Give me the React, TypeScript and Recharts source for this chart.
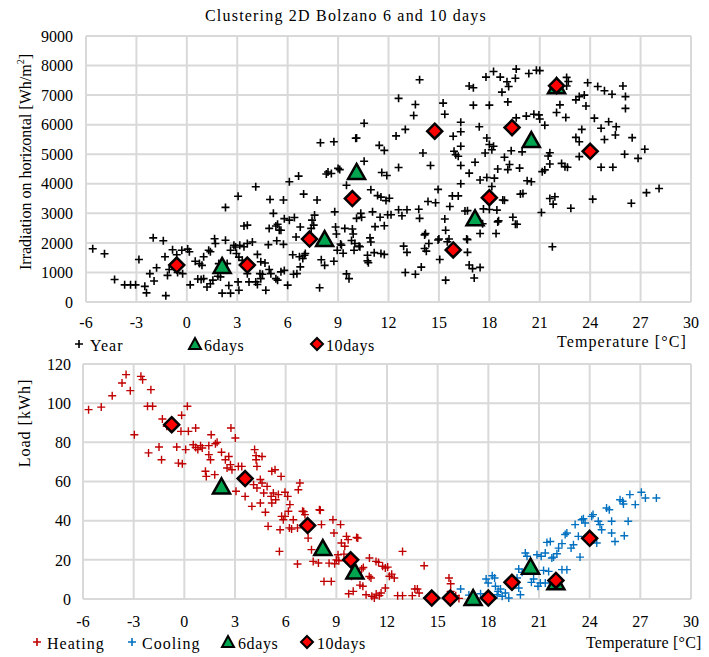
import React from 'react';
import { ScatterChart, Scatter, XAxis, YAxis, CartesianGrid } from 'recharts';

// ---- top chart: irradiation vs temperature ----
const yearPts: [number, number][] = [
  [-5.6, 1800], [-4.9, 1630], [-4.3, 760], [-3.7, 580], [-3.35, 580], [-3.05, 580], [-2.85, 1440],
  [-2.5, 530], [-2.4, 310], [-2.2, 960], [-2.0, 2170], [-1.95, 710], [-1.8, 1160], [-1.4, 2070],
  [-1.3, 1530], [-1.25, 215], [-1.15, 900], [-1.05, 1100], [-0.85, 1770], [-0.6, 1600], [-0.3, 1750],
  [0.05, 1790], [0.15, 1700], [-0.25, 960], [-0.55, 1000], [0.2, 580], [0.5, 1380], [0.75, 1300],
  [0.9, 1240], [0.65, 780], [0.85, 760], [1.0, 1530], [1.3, 1750], [1.4, 1700], [1.65, 2140],
  [1.7, 1980], [1.9, 1300], [1.95, 1150], [2.3, 2090], [2.6, 1750], [2.8, 1920], [1.85, 870],
  [1.4, 620], [1.2, 510], [2.1, 300], [2.6, 300], [2.5, 560], [2.3, 3200], [2.4, 1300], [2.0, 850],
  [2.9, 1860], [2.95, 1640], [1.55, 740], [1.0, 790],
  [3.05, 3580], [4.1, 3900], [3.4, 2570], [3.6, 2600], [4.95, 3470], [5.75, 3450], [5.15, 3000],
  [5.4, 2630], [5.6, 2430], [5.8, 2820], [6.1, 2770], [6.4, 2860], [6.1, 4070], [6.65, 4260],
  [6.95, 3650], [7.75, 3450], [4.9, 2490], [5.3, 2570], [5.5, 2430], [4.85, 1940], [5.35, 2070],
  [5.75, 1950], [6.5, 2200], [6.75, 2540], [7.45, 2770], [7.55, 2600], [7.4, 2490], [6.3, 1600],
  [6.7, 1530], [6.9, 1470], [7.0, 1580], [6.75, 1190], [6.35, 940], [6.0, 570], [5.4, 740],
  [5.3, 790], [5.8, 1070], [5.6, 1020], [4.9, 1100], [5.0, 960], [4.5, 940], [4.35, 960], [4.4, 790],
  [4.1, 680], [4.2, 590], [4.7, 400], [3.9, 2030], [3.6, 1980], [3.15, 1920], [3.4, 1870], [3.3, 1410],
  [3.1, 1520], [4.2, 1610], [4.4, 1360], [4.65, 1320], [3.05, 680], [3.1, 400], [3.6, 960], [3.7, 680],
  [7.95, 5390], [8.75, 5420], [8.0, 1430], [8.2, 1240], [8.75, 1380], [8.3, 4330], [8.4, 4400],
  [8.6, 4350], [7.6, 2940], [7.9, 480], [8.8, 3050], [8.9, 2300], [8.85, 2540], [8.95, 1750],
  [7.05, 1640], [6.55, 960],
  [9.0, 4520], [9.1, 4480], [10.55, 6050], [10.1, 5550], [11.45, 5300], [11.75, 5130], [10.55, 4760],
  [11.6, 4380], [11.9, 4280], [10.95, 3800], [11.35, 3600], [11.55, 3550], [11.85, 3430], [10.35, 3000],
  [10.4, 2870], [11.05, 3050], [11.5, 2870], [11.95, 2950], [11.2, 2550], [11.75, 2580], [9.4, 2490],
  [9.85, 2470], [9.9, 2300], [9.8, 2080], [10.0, 1980], [10.3, 1870], [10.9, 2170], [10.95, 2030],
  [11.55, 1640], [11.15, 1670], [10.75, 1390], [9.5, 950], [9.65, 790], [9.15, 1960], [9.3, 1650],
  [9.5, 3950], [10.05, 5540], [9.95, 1750], [10.1, 2830], [9.2, 1920], [10.75, 1580], [11.75, 1610],
  [10.25, 1890], [10.8, 1330],
  [13.85, 7520], [12.6, 6890], [13.6, 6680], [13.5, 6310], [15.25, 6730], [15.35, 6350], [12.45, 5620],
  [13.0, 5840], [16.3, 6080], [16.3, 5760], [15.85, 5610], [17.4, 5930], [16.8, 7310], [17.05, 7250],
  [17.05, 6660], [18.0, 6660], [17.8, 7610], [18.25, 7800], [18.65, 7610], [19.05, 7450], [19.15, 7290],
  [18.75, 7100], [19.1, 6770], [19.6, 7880], [19.55, 7570], [20.35, 7730], [20.8, 7840], [19.6, 6230],
  [20.2, 6290], [20.65, 6350], [14.05, 5040], [14.5, 4620], [12.6, 4550], [15.9, 5100], [16.0, 4980],
  [16.3, 5270], [16.15, 4930], [16.3, 4620], [17.15, 4730], [16.8, 4360], [17.85, 5550], [18.0, 5330],
  [18.25, 5270], [17.75, 5040], [18.15, 5150], [18.9, 4900], [19.2, 4650], [18.5, 4500], [19.1, 4480],
  [19.8, 4530], [19.3, 5120], [19.95, 5080], [17.45, 4130], [17.85, 4210], [18.3, 4190], [18.15, 3910],
  [20.25, 4100], [19.85, 3650], [16.3, 4000], [14.95, 3810], [14.35, 3400], [14.8, 3360], [15.8, 3590],
  [16.15, 3590], [15.65, 3230], [16.55, 3080], [15.35, 2810], [15.4, 2430], [16.65, 2130], [17.45, 2320],
  [18.4, 2320], [18.55, 2750], [18.45, 3110], [18.8, 3450], [19.4, 2870], [19.55, 2630], [17.65, 3150],
  [12.05, 3510], [12.15, 2950], [12.6, 3120], [12.8, 2920], [13.1, 3120], [13.8, 3140], [13.85, 2830],
  [14.15, 2270], [14.4, 1980], [14.95, 2100], [14.25, 1720], [14.15, 1810], [12.9, 1890], [13.1, 1680],
  [15.5, 2040], [15.05, 1440], [16.7, 1680], [16.8, 1250], [17.0, 1130], [17.45, 1170], [17.1, 810],
  [15.4, 740], [13.0, 1000], [13.6, 940], [13.95, 1180], [16.7, 3090], [16.7, 2110], [18.0, 3130],
  [18.9, 3440], [17.6, 2650], [18.5, 2710], [19.65, 2630], [15.0, 2130], [15.6, 2130], [14.2, 2320],
  [21.0, 7830], [22.6, 7600], [22.7, 7460], [22.6, 7310], [23.85, 7420], [24.45, 7290], [24.85, 7150],
  [25.3, 7030], [25.95, 7310], [26.1, 6950], [26.1, 6550], [23.15, 6840], [23.35, 6950], [23.65, 7000],
  [23.75, 6630], [22.2, 6670], [22.0, 6410], [22.55, 6240], [20.95, 6330], [21.0, 6190], [21.3, 5980],
  [24.25, 6220], [24.65, 5880], [25.1, 6100], [25.55, 5930], [23.5, 5840], [23.15, 5570], [23.35, 5420],
  [24.85, 5500], [25.5, 5650], [26.5, 5560], [23.35, 4920], [21.6, 5050], [21.5, 4940], [21.6, 4670],
  [22.3, 4690], [22.5, 4580], [22.65, 4560], [21.15, 4410], [21.3, 4470], [24.65, 4560], [25.35, 4560],
  [26.05, 5000], [26.85, 4860], [27.25, 5170], [20.5, 4070], [20.0, 3670], [21.6, 3500], [21.9, 3560],
  [21.8, 3310], [21.1, 3030], [22.85, 3170], [24.15, 3480], [26.45, 3340], [27.35, 3700], [28.1, 3840],
  [21.75, 1870],
];
const top6days: [number, number][] = [
  [2.1, 1220], [8.2, 2130], [10.1, 4400], [17.15, 2830], [20.5, 5480], [22.0, 7300],
];
const top10days: [number, number][] = [
  [-0.6, 1250], [3.6, 1250], [7.3, 2130], [9.85, 3500], [14.75, 5780], [15.85, 1760],
  [18.0, 3530], [19.35, 5900], [22.0, 7320], [24.0, 5100],
];

// ---- bottom chart: load vs temperature ----
const heatingPts: [number, number][] = [
  [-5.67, 96.7], [-4.92, 98], [-4.27, 103.8], [-3.69, 110.3], [-3.45, 114.6], [-3.2, 106.4], [-2.96, 83.9],
  [-2.57, 113.7], [-2.47, 112], [-1.98, 106.9], [-2.18, 98.4], [-1.88, 98.4], [-2.12, 74.6], [-1.5, 77.6],
  [-1.35, 71.1], [-1.3, 91.9], [-1.04, 88.2], [-0.45, 77.6], [-0.35, 69.4], [-0.12, 69.1], [-0.16, 93.8],
  [0.18, 98.4], [-0.2, 85.6], [0.24, 85.6], [0.08, 76.3], [0.67, 87.3], [0.53, 78.8], [0.67, 77.4],
  [0.8, 76.3], [0.96, 78.3], [1.06, 77.1], [1.45, 78.3], [1.59, 83.9], [1.45, 73.7], [1.55, 71.1],
  [1.25, 65.2], [1.3, 62.6], [1.8, 63.5], [1.84, 79.3], [1.94, 80], [2.2, 74.9], [2.43, 71.1],
  [2.63, 72.8], [2.53, 66.9], [2.73, 68.6], [2.82, 66], [2.76, 87.3], [3.02, 82.2], [3.2, 67.7],
  [3.4, 67.7], [3.06, 55], [3.6, 52.4], [4.16, 76.3], [4.25, 73.2], [4.3, 67.7], [4.25, 71.1],
  [4.6, 72.8], [4.1, 58.4], [4.3, 56.7], [4.0, 47.3], [4.5, 61], [4.6, 59.2], [4.5, 49], [4.7, 54.1],
  [4.9, 57.5], [4.8, 44.3], [4.96, 37.1], [5.18, 65.2], [5.37, 66], [5.14, 52.4], [5.27, 54.1],
  [5.57, 53.3], [5.41, 50.7], [5.18, 49], [5.73, 62.6], [5.76, 42.2], [5.86, 40.5], [5.96, 42.2],
  [5.67, 35.4], [5.63, 24.3], [5.96, 54.5], [6.12, 52.4], [6.25, 48.2], [6.16, 44.8], [6.22, 36.3],
  [6.35, 35.7], [6.45, 40.5], [6.75, 55.8], [6.84, 59.2], [6.7, 36.3], [7.0, 44.8], [7.14, 43.1],
  [6.7, 17.9], [7.33, 31.1], [7.53, 25.2], [8.0, 45.6], [8.12, 38], [7.63, 19.2], [7.94, 18.4],
  [8.27, 9], [8.7, 9], [8.8, 40.5], [8.86, 33.7], [9.1, 22.6], [8.9, 18], [9.0, 20], [9.25, 38],
  [9.3, 28.6], [9.5, 26.9], [9.6, 32], [9.7, 30.3], [9.9, 11.6], [9.73, 2.7], [10.0, 3.9],
  [10.2, 31.4], [9.45, 22.9], [9.15, 19.5], [8.57, 18.3], [8.05, 45.3], [7.07, 44.6], [10.27, 31.1],
  [10.96, 20.9], [11.35, 19.2], [11.5, 18.7], [11.74, 16.7], [11.9, 15.8], [12.04, 16.3], [11.05, 10.7],
  [10.57, 6.5], [10.76, 2.2], [11.1, 1.4], [11.25, 0.5], [11.55, 1.7], [11.65, 3.1], [11.9, 5.6],
  [12.14, 11.6], [12.43, 10.7], [12.63, 1.7], [12.92, 1.7], [13.5, 1.7], [13.8, 5.1], [13.9, 3.1],
  [12.92, 24.3], [14.2, 17], [15.67, 10.7], [15.77, 7.8], [15.77, 3.9], [16.07, 1.7], [16.26, 0.3],
  [10.6, 16.1], [10.5, 15.3], [10.95, 11.5], [10.4, 7.1], [11.36, 2.5], [12.28, 12.7], [13.65, 5.1],
];
const coolingPts: [number, number][] = [
  [16.36, 5.1], [16.85, 2], [17.15, 1.4], [17.54, 2.7], [17.87, 10.2], [17.99, 8.2], [18.23, 11.9],
  [18.37, 10.7], [18.42, 6.5], [18.58, 3.9], [18.52, 2.2], [18.72, 5.1], [18.82, 1.4], [19.01, 3.1],
  [19.21, 0.5], [19.8, 5.6], [19.9, 2.2], [19.7, 10.7], [20.19, 23.5], [20.29, 21.8], [19.8, 15.3],
  [20.0, 13.6], [20.55, 8.5], [20.68, 10.2], [20.94, 6.5], [21.08, 8.2], [21.37, 8.2], [20.88, 22.6],
  [21.13, 21.8], [21.37, 23.5], [21.47, 28.9], [21.67, 29.4], [21.27, 14.6], [21.57, 14.1], [21.76, 20.9],
  [21.86, 21.4], [22.16, 26], [22.36, 28.3], [22.55, 32.9], [22.65, 33.7], [22.36, 15], [22.65, 15],
  [22.06, 23.1], [22.9, 26], [23.04, 27.7], [23.14, 38], [23.53, 40.5], [23.63, 41], [23.73, 38.8],
  [23.33, 32], [23.43, 21.4], [24.12, 42.2], [24.2, 43.1], [24.42, 28.6], [24.51, 39.7], [24.61, 38],
  [24.71, 35.4], [25.3, 39.7], [25.3, 33.7], [25.5, 29.4], [26.05, 32.3], [26.28, 39.7], [25.0, 46.5],
  [25.16, 45.6], [25.8, 50.7], [26.0, 48.5], [25.95, 49.9], [26.38, 53.3], [26.7, 48.2], [27.06, 54.5],
  [27.3, 51.6], [27.95, 51.6],
];
const bot6days: [number, number][] = [
  [2.2, 57.5], [8.2, 26], [10.1, 14], [17.1, 0.5], [20.5, 16.5], [22.0, 8.5],
];
const bot10days: [number, number][] = [
  [-0.75, 89], [3.6, 61.5], [7.3, 37.5], [9.85, 20], [14.65, 0.5], [15.75, 0.5], [18.0, 0.5],
  [19.4, 8.5], [22.0, 9.5], [24.0, 31],
];

const xTicks = [-6, -3, 0, 3, 6, 9, 12, 15, 18, 21, 24, 27, 30];
const topYTicks = [0, 1000, 2000, 3000, 4000, 5000, 6000, 7000, 8000, 9000];
const botYTicks = [0, 20, 40, 60, 80, 100, 120];

const FONT = '"Liberation Serif", "Times New Roman", serif';
const GRID = '#D9D9D9';
const GREEN = '#00A550';

const toPts = (arr: [number, number][]) => arr.map(([x, y]) => ({ x, y }));

const crossShape = (color: string, w: number) => (props: any) => {
  const { cx, cy } = props;
  const r = 4;
  return (
    <path
      d={`M${cx - r},${cy}H${cx + r}M${cx},${cy - r}V${cy + r}`}
      stroke={color}
      strokeWidth={w}
      fill="none"
    />
  );
};

const triShape = (props: any) => {
  const { cx, cy } = props;
  return (
    <path
      d={`M${cx},${cy - 8}L${cx + 8.5},${cy + 7}L${cx - 8.5},${cy + 7}Z`}
      fill={GREEN}
      stroke="#000"
      strokeWidth={2.5}
    />
  );
};

const diaShape = (props: any) => {
  const { cx, cy } = props;
  const r = 7.5;
  return (
    <path
      d={`M${cx},${cy - r}L${cx + r},${cy}L${cx},${cy + r}L${cx - r},${cy}Z`}
      fill="#FF0000"
      stroke="#000"
      strokeWidth={2.5}
    />
  );
};

const tickStyle = { fontFamily: FONT, fontSize: 16, fill: '#000' };

const LegendIcon: React.FC<{ kind: 'cross' | 'tri' | 'dia'; color?: string }> = ({ kind, color }) => (
  <svg width={16} height={16} style={{ display: 'block' }}>
    {kind === 'cross' && (
      <path d="M3,8H11M7,4V12" stroke={color} strokeWidth={1.6} fill="none" />
    )}
    {kind === 'tri' && (
      <path d="M8,2L14,13L2,13Z" fill={GREEN} stroke="#000" strokeWidth={2} />
    )}
    {kind === 'dia' && (
      <path d="M8,2L14,8L8,14L2,8Z" fill="#FF0000" stroke="#000" strokeWidth={2} />
    )}
  </svg>
);

const label = (left: number, top: number, text: React.ReactNode, size = 16, spacing = 0): React.ReactElement => (
  <div
    style={{
      position: 'absolute',
      left,
      top,
      fontFamily: FONT,
      fontSize: size,
      letterSpacing: spacing,
      whiteSpace: 'nowrap',
      lineHeight: 1,
      color: '#000',
    }}
  >
    {text}
  </div>
);

const icon = (left: number, top: number, kind: 'cross' | 'tri' | 'dia', color?: string) => (
  <div style={{ position: 'absolute', left, top }}>
    <LegendIcon kind={kind} color={color} />
  </div>
);

export default function App() {
  return (
    <div
      style={{
        position: 'absolute',
        left: 0,
        top: 0,
        width: 709,
        height: 657,
        background: '#fff',
        overflow: 'hidden',
      }}
    >
      {/* top chart */}
      <div style={{ position: 'absolute', left: 0, top: 0 }}>
        <ScatterChart width={709} height={345} margin={{ top: 36, right: 18, left: 0, bottom: 0 }}>
          <CartesianGrid stroke={GRID} strokeWidth={2} />
          <XAxis
            type="number"
            dataKey="x"
            domain={[-6, 30]}
            ticks={xTicks}
            height={43}
            tickLine={false}
            tickSize={0}
            tickMargin={15}
            axisLine={{ stroke: GRID, strokeWidth: 2 }}
            tick={tickStyle}
            interval={0}
          />
          <YAxis
            type="number"
            dataKey="y"
            domain={[0, 9000]}
            ticks={topYTicks}
            width={86}
            tickLine={false}
            tickSize={0}
            tickMargin={13}
            axisLine={{ stroke: GRID, strokeWidth: 2 }}
            tick={tickStyle}
            interval={0}
          />
          <Scatter data={toPts(yearPts)} shape={crossShape('#000', 1.6)} isAnimationActive={false} />
          <Scatter data={toPts(top6days)} shape={triShape} isAnimationActive={false} />
          <Scatter data={toPts(top10days)} shape={diaShape} isAnimationActive={false} />
        </ScatterChart>
      </div>

      {/* title */}
      {label(205, 8, 'Clustering 2D Bolzano 6 and 10 days', 16, 1.2)}

      {/* top y label */}
      <div
        style={{
          position: 'absolute',
          left: 25,
          top: 162,
          transform: 'translate(-50%, -50%) rotate(-90deg)',
          fontFamily: FONT,
          fontSize: 16,
          whiteSpace: 'nowrap',
          lineHeight: 1,
        }}
      >
        Irradiation on horizontal [Wh/m<sup style={{ fontSize: 10 }}>2</sup>]
      </div>

      {/* top legend */}
      {icon(72, 336, 'cross', '#000')}
      {label(90, 338, 'Year', 16, 1)}
      {icon(187, 336, 'tri')}
      {label(204, 338, '6days', 16, 0.6)}
      {icon(309, 336, 'dia')}
      {label(326, 338, '10days', 16, 0.6)}
      {label(557, 334, 'Temperature [°C]', 16, 1.1)}

      {/* bottom chart */}
      <div style={{ position: 'absolute', left: 0, top: 330 }}>
        <ScatterChart width={709} height={325} margin={{ top: 34, right: 18, left: 0, bottom: 0 }}>
          <CartesianGrid stroke={GRID} strokeWidth={2} />
          <XAxis
            type="number"
            dataKey="x"
            domain={[-6, 30]}
            ticks={xTicks}
            height={56}
            tickLine={false}
            tickSize={0}
            tickMargin={17}
            axisLine={{ stroke: GRID, strokeWidth: 2 }}
            tick={tickStyle}
            interval={0}
          />
          <YAxis
            type="number"
            dataKey="y"
            domain={[0, 120]}
            ticks={botYTicks}
            width={83}
            tickLine={false}
            tickSize={0}
            tickMargin={12}
            axisLine={{ stroke: GRID, strokeWidth: 2 }}
            tick={tickStyle}
            interval={0}
          />
          <Scatter data={toPts(heatingPts)} shape={crossShape('#C00000', 1.4)} isAnimationActive={false} />
          <Scatter data={toPts(coolingPts)} shape={crossShape('#0070C0', 1.4)} isAnimationActive={false} />
          <Scatter data={toPts(bot6days)} shape={triShape} isAnimationActive={false} />
          <Scatter data={toPts(bot10days)} shape={diaShape} isAnimationActive={false} />
        </ScatterChart>
      </div>

      {/* bottom y label */}
      <div
        style={{
          position: 'absolute',
          left: 25,
          top: 423,
          transform: 'translate(-50%, -50%) rotate(-90deg)',
          fontFamily: FONT,
          fontSize: 16,
          letterSpacing: 1,
          whiteSpace: 'nowrap',
          lineHeight: 1,
        }}
      >
        Load [kWh]
      </div>

      {/* bottom legend */}
      {icon(30, 634, 'cross', '#C00000')}
      {label(47, 636, 'Heating', 16, 1)}
      {icon(125, 634, 'cross', '#0070C0')}
      {label(142, 636, 'Cooling', 16, 1)}
      {icon(220, 634, 'tri')}
      {label(238, 636, '6days', 16, 0.6)}
      {icon(299, 634, 'dia')}
      {label(317, 636, '10days', 16, 0.6)}
      {label(586, 635, 'Temperature [°C]', 16, 0.2)}
    </div>
  );
}
